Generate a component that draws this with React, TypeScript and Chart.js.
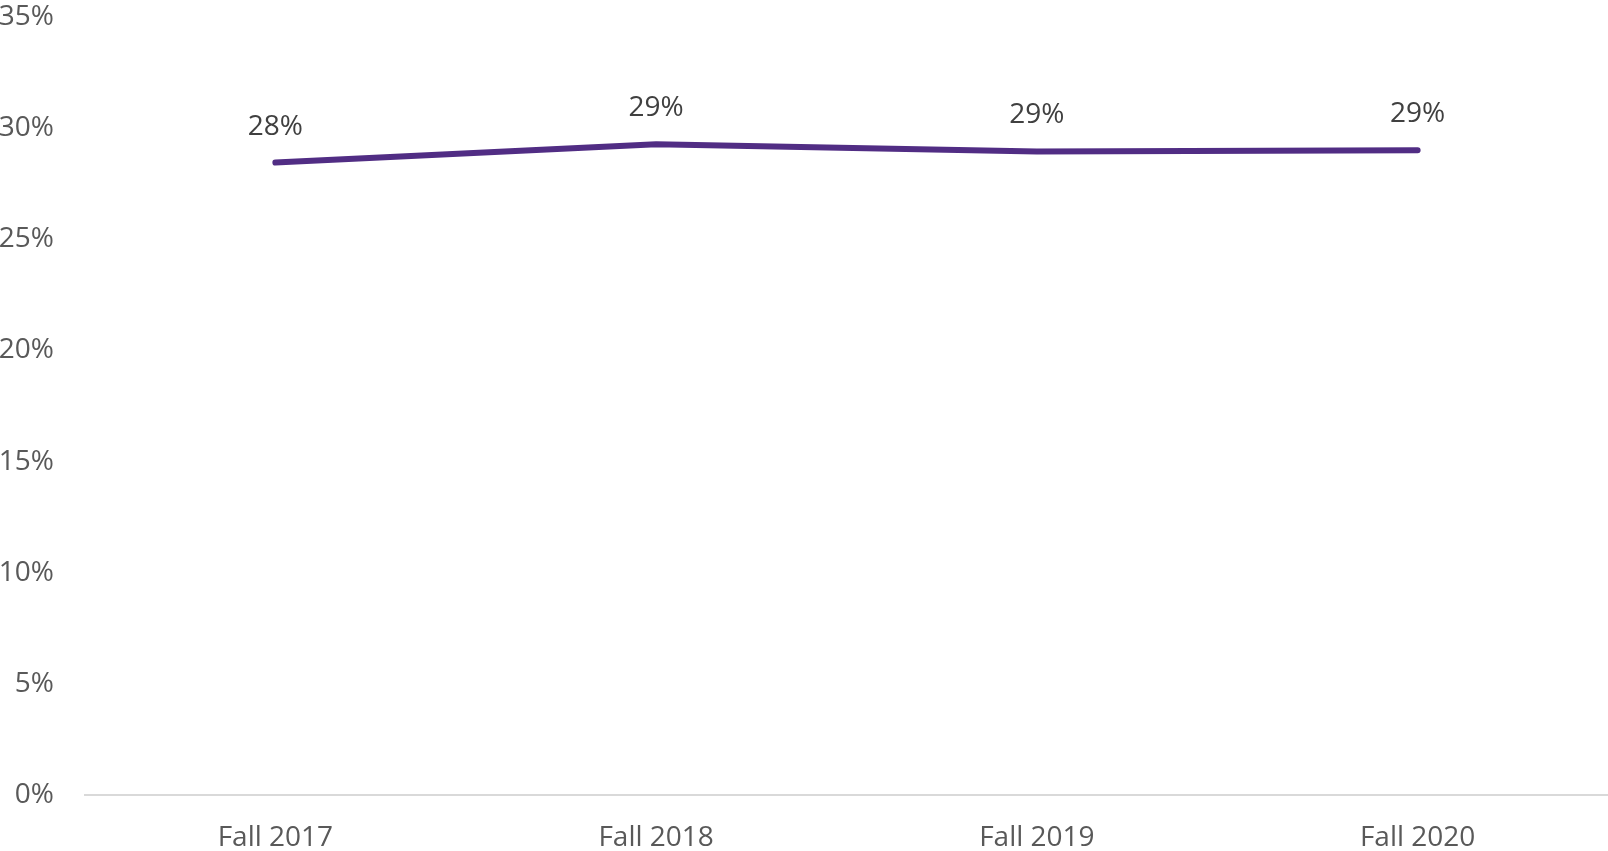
import React, { useEffect, useRef } from "react";
import { Chart, registerables } from "chart.js";

Chart.register(...registerables);

const categories = ["Fall 2017", "Fall 2018", "Fall 2019", "Fall 2020"];
const values = [28.45, 29.28, 28.95, 29.01];
const yTicks = [0, 5, 10, 15, 20, 25, 30, 35];

const FONT = "'Open Sans', sans-serif";

const dataLabelPlugin = {
  id: "dataLabels",
  afterDatasetsDraw(chart: any) {
    const ctx = chart.ctx;
    const meta = chart.getDatasetMeta(0);
    ctx.save();
    ctx.font = `28px ${FONT}`;
    ctx.fillStyle = "#404040";
    ctx.textAlign = "center";
    ctx.textBaseline = "middle";
    meta.data.forEach((pt: any, i: number) => {
      ctx.fillText(Math.round(values[i]) + "%", pt.x, pt.y - 36);
    });
    ctx.restore();
  },
};

export default function App() {
  const ref = useRef<HTMLCanvasElement>(null);
  useEffect(() => {
    const chart = new Chart(ref.current!, {
      type: "line",
      data: {
        labels: categories,
        datasets: [
          {
            data: values,
            borderColor: "#512D84",
            borderWidth: 6,
            borderCapStyle: "round",
            borderJoinStyle: "round",
            pointRadius: 0,
            tension: 0,
            fill: false,
          },
        ],
      },
      options: {
        animation: false,
        responsive: false,
        maintainAspectRatio: false,
        layout: { padding: { top: 17, right: 0, left: 0, bottom: 0 } },
        plugins: { legend: { display: false }, tooltip: { enabled: false } },
        scales: {
          x: {
            offset: true,
            grid: { display: false, drawTicks: false },
            border: { display: true, color: "#D9D9D9", width: 2 },
            ticks: {
              color: "#595959",
              font: { family: FONT, size: 28 },
              padding: 26,
              maxRotation: 0,
            },
            afterFit(scale: any) {
              scale.height = 56;
              scale.paddingLeft = 0;
              scale.paddingRight = 0;
            },
          },
          y: {
            min: 0,
            max: 35,
            afterBuildTicks(scale: any) {
              scale.ticks = yTicks.map((v) => ({ value: v }));
            },
            grid: { display: false, drawTicks: false },
            border: { display: false },
            ticks: {
              color: "#595959",
              font: { family: FONT, size: 28 },
              padding: 31,
              callback: (v: any) => v + "%",
            },
            afterFit(scale: any) {
              scale.width = 85;
              scale.paddingTop = 0;
              scale.paddingBottom = 0;
            },
          },
        },
      },
      plugins: [dataLabelPlugin],
    });
    return () => chart.destroy();
  }, []);
  return (
    <div style={{ position: "fixed", left: 0, top: 0, width: 1608, height: 851, background: "#fff" }}>
      <canvas ref={ref} width={1608} height={851} style={{ display: "block" }} />
    </div>
  );
}
